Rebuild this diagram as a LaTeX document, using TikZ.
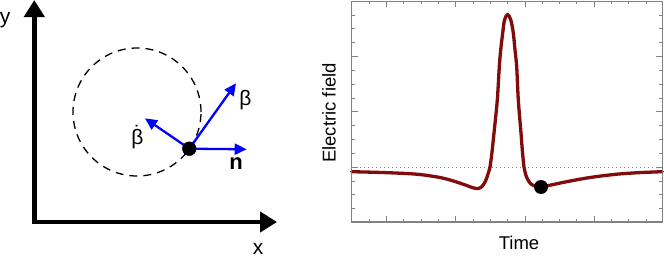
\documentclass[tikz,border=0pt]{standalone}
\usepackage{fontspec}
\setmainfont{Liberation Sans}
\usetikzlibrary{arrows.meta}
\definecolor{curvered}{RGB}{128,12,12}
\definecolor{framegray}{RGB}{130,130,130}
\definecolor{vecblue}{RGB}{0,0,255}
\begin{document}
\begin{tikzpicture}[x=1pt,y=-1pt,
  axisline/.style={line width=4.5pt,line join=miter,
    {Triangle[length=17pt,width=20pt]}-{Triangle[length=17pt,width=20pt]}},
  vec/.style={vecblue,line width=2.3pt,-{Triangle[length=12pt,width=11pt]}},
  orbit/.style={line width=1.3pt,dash pattern=on 8pt off 6pt},
  charge/.style={circle,fill=black,inner sep=0pt,minimum size=14pt},
  biglab/.style={inner sep=0pt,font=\fontsize{21}{25}\selectfont},
  plotlab/.style={inner sep=0pt,font=\fontsize{18.5}{22}\selectfont},
  framestyle/.style={framegray,line width=1.2pt},
  tickstyle/.style={framegray,line width=1pt},
  field/.style={curvered,line width=3.3pt,line join=round,line cap=round}]
\useasboundingbox (0,0) rectangle (664,260);

% ---------- left panel ----------
\coordinate (ytip) at (34.3,0);
\coordinate (O) at (34.3,222);
\coordinate (xtip) at (277,222);
\draw[axisline] (ytip) -- (O) -- (xtip);
\node[biglab] (ylab) at (5,19.7) {y};
\node[biglab] (xlab) at (258,248.5) {x};

\coordinate (C) at (137,112);
\draw[orbit] (C) circle[radius=64pt];

\node[charge] (q) at (189.3,148.7) {};
\coordinate (bt) at (236,83.3);
\coordinate (bdt) at (145,118.3);
\coordinate (nt) at (246.7,149.3);
\draw[vec] (q.center) -- (bt);
\draw[vec] (q.center) -- (bdt);
\draw[vec] (q.center) -- (nt);
\node[charge] at (q) {};
\node[inner sep=0pt,font=\fontsize{21}{25}\selectfont] (blab) at (245.5,100.5) {β};
\node[inner sep=0pt,font=\fontsize{21}{25}\selectfont] (bdlab) at (137.5,137) {\accent"02D9 β};
\node[biglab,font=\fontsize{22}{26}\selectfont\bfseries] (nlab) at (236,163.7) {n};

% ---------- right panel ----------
\coordinate (FL) at (351.7,1.3);
\coordinate (FR) at (662.3,222);
\foreach \k in {1,...,15}{
  \pgfmathsetmacro\L{mod(\k,4)==0 ? 6 : 3}
  \pgfmathsetmacro\yy{1.3+13.83*\k}
  \draw[tickstyle] (351.7,\yy) -- ++(\L,0);
  \draw[tickstyle] (662.3,\yy) -- ++(-\L,0);
}
\foreach \k in {1,...,17}{
  \pgfmathsetmacro\L{mod(\k,4)==2 ? 6 : 3}
  \pgfmathsetmacro\xx{351.7+17.33*\k}
  \draw[tickstyle] (\xx,222) -- ++(0,-\L);
  \draw[tickstyle] (\xx,1.3) -- ++(0,\L);
}
\draw[framegray,line width=0.8pt,dash pattern=on 1pt off 3pt] (351.7,167) -- (662.3,167);

\draw[field] plot[smooth,tension=0.5] coordinates {
 (351.7,171.7) (385,172.6) (416.7,174.2) (440,177.5) (455,181.5)
 (466.7,185.5) (473,187.8) (478,188.5) (482,186.5) (485.5,181)
 (488,174) (490,167) (492,152) (494,133) (497.3,100) (499.3,66.7)
 (500.7,50) (502.7,33) (504.5,20) (507.6,14.5) (510.8,20) (513.3,33)
 (515,50) (516.7,66.7) (518.3,100) (521,133) (522.3,150) (524,167)
 (526,175.5) (528.3,180.5) (531,184) (535,186) (541,187) (550,185.2)
 (566.7,181.7) (590,177.5) (616.7,174.2) (640,172.6) (662.3,171.7)};
\draw[framestyle] (FL) rectangle (FR);
\node[charge] (p) at (541,187) {};

\node[plotlab,rotate=90] (elab) at (329,113) {Electric field};
\node[plotlab] (tlab) at (519,243.3) {Time};
\end{tikzpicture}
\end{document}
